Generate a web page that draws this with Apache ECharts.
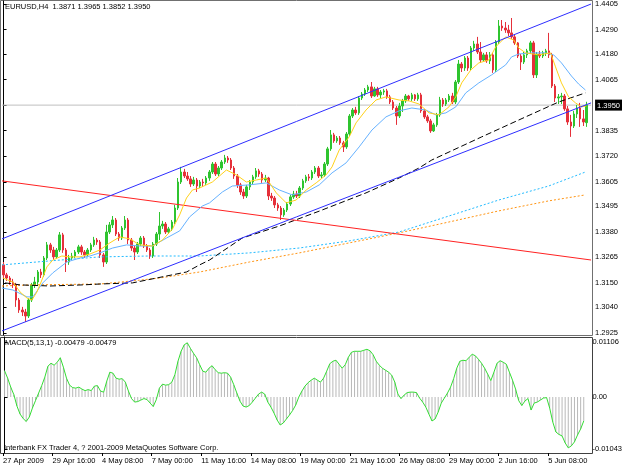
<!DOCTYPE html>
<html>
<head>
<meta charset="utf-8">
<title>EURUSD,H4</title>
<script src="https://cdn.jsdelivr.net/npm/echarts@6/dist/echarts.min.js"></script>
<style>
html, body { margin: 0; padding: 0; background: #fff; }
#main { width: 625px; height: 469px; }
</style>
</head>
<body>
<div id="main"></div>
<script>
// 4h bars, 27 Apr 2009 00:00 .. 9 Jun 04:00 -> [open, close, low, high]
var candles = [
    [1.3231,1.3186,1.3172,1.3244],[1.3186,1.3172,1.3159,1.3195],[1.3172,1.3154,1.3141,1.3181],[1.3154,1.3141,1.3127,1.3168],[1.3141,1.3073,1.3042,1.3150],
    [1.3073,1.3028,1.3015,1.3082],[1.3028,1.3019,1.3001,1.3042],[1.3019,1.3001,1.2974,1.3033],[1.3001,1.3073,1.2992,1.3082],[1.3073,1.3141,1.3064,1.3150],
    [1.3141,1.3154,1.3127,1.3177],[1.3154,1.3199,1.3141,1.3208],[1.3199,1.3186,1.3172,1.3213],[1.3186,1.3262,1.3177,1.3271],[1.3262,1.3321,1.3253,1.3334],
    [1.3321,1.3298,1.3285,1.3330],[1.3298,1.3267,1.3253,1.3312],[1.3267,1.3298,1.3258,1.3307],[1.3298,1.3366,1.3289,1.3379],[1.3366,1.3298,1.3285,1.3375],
    [1.3298,1.3244,1.3199,1.3307],[1.3244,1.3262,1.3231,1.3276],[1.3262,1.3271,1.3253,1.3285],[1.3271,1.3289,1.3262,1.3298],[1.3289,1.3312,1.3280,1.3321],
    [1.3312,1.3289,1.3276,1.3321],[1.3289,1.3276,1.3262,1.3298],[1.3276,1.3298,1.3267,1.3307],[1.3298,1.3321,1.3289,1.3330],[1.3321,1.3343,1.3312,1.3357],
    [1.3343,1.3334,1.3321,1.3352],[1.3334,1.3276,1.3262,1.3343],[1.3276,1.3244,1.3222,1.3285],[1.3244,1.3379,1.3235,1.3411],[1.3379,1.3411,1.3370,1.3424],
    [1.3411,1.3433,1.3397,1.3451],[1.3433,1.3370,1.3361,1.3442],[1.3370,1.3352,1.3339,1.3379],[1.3352,1.3397,1.3343,1.3406],[1.3397,1.3433,1.3388,1.3451],
    [1.3433,1.3343,1.3325,1.3442],[1.3343,1.3307,1.3294,1.3352],[1.3307,1.3289,1.3253,1.3316],[1.3289,1.3325,1.3280,1.3334],[1.3325,1.3352,1.3316,1.3361],
    [1.3352,1.3316,1.3307,1.3361],[1.3316,1.3298,1.3289,1.3325],[1.3298,1.3271,1.3258,1.3307],[1.3271,1.3325,1.3262,1.3334],[1.3325,1.3370,1.3316,1.3379],
    [1.3370,1.3406,1.3343,1.3469],[1.3406,1.3415,1.3393,1.3429],[1.3415,1.3379,1.3370,1.3424],[1.3379,1.3393,1.3370,1.3402],[1.3393,1.3424,1.3384,1.3433],
    [1.3424,1.3487,1.3415,1.3501],[1.3487,1.3604,1.3478,1.3622],[1.3604,1.3649,1.3595,1.3672],[1.3649,1.3631,1.3622,1.3663],[1.3631,1.3618,1.3609,1.3649],
    [1.3618,1.3595,1.3582,1.3631],[1.3595,1.3613,1.3586,1.3627],[1.3613,1.3586,1.3559,1.3622],[1.3586,1.3604,1.3577,1.3613],[1.3604,1.3600,1.3582,1.3618],
    [1.3600,1.3622,1.3591,1.3631],[1.3622,1.3649,1.3609,1.3658],[1.3649,1.3685,1.3640,1.3694],[1.3685,1.3640,1.3631,1.3694],[1.3640,1.3667,1.3631,1.3676],
    [1.3667,1.3694,1.3658,1.3703],[1.3694,1.3712,1.3685,1.3726],[1.3712,1.3703,1.3690,1.3721],[1.3703,1.3667,1.3658,1.3712],[1.3667,1.3631,1.3618,1.3676],
    [1.3631,1.3591,1.3577,1.3640],[1.3591,1.3559,1.3546,1.3600],[1.3559,1.3541,1.3528,1.3573],[1.3541,1.3582,1.3532,1.3591],[1.3582,1.3604,1.3568,1.3613],
    [1.3604,1.3627,1.3595,1.3636],[1.3627,1.3654,1.3618,1.3667],[1.3654,1.3640,1.3627,1.3663],[1.3640,1.3613,1.3600,1.3649],[1.3613,1.3622,1.3604,1.3636],
    [1.3622,1.3541,1.3523,1.3627],[1.3541,1.3532,1.3519,1.3555],[1.3532,1.3501,1.3487,1.3541],[1.3501,1.3487,1.3474,1.3510],[1.3487,1.3456,1.3433,1.3496],
    [1.3456,1.3478,1.3447,1.3487],[1.3478,1.3505,1.3469,1.3514],[1.3505,1.3537,1.3496,1.3546],[1.3537,1.3550,1.3528,1.3564],[1.3550,1.3541,1.3532,1.3564],
    [1.3541,1.3577,1.3532,1.3586],[1.3577,1.3609,1.3568,1.3618],[1.3609,1.3627,1.3600,1.3636],[1.3627,1.3622,1.3609,1.3640],[1.3622,1.3649,1.3613,1.3658],
    [1.3649,1.3667,1.3640,1.3676],[1.3667,1.3631,1.3622,1.3676],[1.3631,1.3636,1.3622,1.3649],[1.3636,1.3685,1.3627,1.3694],[1.3685,1.3753,1.3676,1.3762],
    [1.3753,1.3816,1.3744,1.3838],[1.3816,1.3789,1.3780,1.3825],[1.3789,1.3802,1.3780,1.3811],[1.3802,1.3780,1.3771,1.3811],[1.3780,1.3762,1.3739,1.3789],
    [1.3762,1.3820,1.3753,1.3829],[1.3820,1.3901,1.3811,1.3910],[1.3901,1.3928,1.3892,1.3937],[1.3928,1.3915,1.3906,1.3942],[1.3915,1.3982,1.3906,1.3991],
    [1.3982,1.4000,1.3973,1.4009],[1.4000,1.4018,1.3991,1.4027],[1.4018,1.4032,1.4009,1.4041],[1.4032,1.3991,1.3982,1.4054],[1.3991,1.4023,1.3987,1.4032],
    [1.4023,1.3996,1.3987,1.4032],[1.3996,1.4009,1.3982,1.4018],[1.4009,1.4014,1.3996,1.4023],[1.4014,1.3987,1.3978,1.4023],[1.3987,1.3964,1.3955,1.3996],
    [1.3964,1.3937,1.3928,1.3973],[1.3937,1.3901,1.3861,1.3946],[1.3901,1.3946,1.3892,1.3960],[1.3946,1.3969,1.3919,1.3978],[1.3969,1.3991,1.3960,1.4000],
    [1.3991,1.3978,1.3969,1.3996],[1.3978,1.3996,1.3969,1.4005],[1.3996,1.3978,1.3969,1.4000],[1.3978,1.3996,1.3969,1.4005],[1.3996,1.3924,1.3915,1.4005],
    [1.3924,1.3897,1.3888,1.3933],[1.3897,1.3879,1.3870,1.3906],[1.3879,1.3834,1.3825,1.3888],[1.3834,1.3861,1.3829,1.3870],[1.3861,1.3906,1.3852,1.3915],
    [1.3906,1.3973,1.3897,1.3987],[1.3973,1.3955,1.3942,1.3982],[1.3955,1.3973,1.3946,1.3982],[1.3973,1.3991,1.3964,1.4000],[1.3991,1.3964,1.3955,1.4005],
    [1.3964,1.4054,1.3955,1.4063],[1.4054,1.4135,1.4045,1.4153],[1.4135,1.4117,1.4099,1.4144],[1.4117,1.4162,1.4104,1.4171],[1.4162,1.4117,1.4104,1.4171],
    [1.4117,1.4207,1.4108,1.4216],[1.4207,1.4225,1.4194,1.4239],[1.4225,1.4189,1.4180,1.4257],[1.4189,1.4153,1.4140,1.4234],[1.4153,1.4176,1.4144,1.4185],
    [1.4176,1.4149,1.4140,1.4189],[1.4149,1.4176,1.4135,1.4189],[1.4176,1.4108,1.4095,1.4185],[1.4108,1.4234,1.4099,1.4243],[1.4234,1.4306,1.4225,1.4333],
    [1.4306,1.4297,1.4284,1.4333],[1.4297,1.4288,1.4275,1.4324],[1.4288,1.4275,1.4261,1.4311],[1.4275,1.4257,1.4248,1.4342],[1.4257,1.4230,1.4221,1.4266],
    [1.4230,1.4171,1.4162,1.4234],[1.4171,1.4144,1.4108,1.4180],[1.4144,1.4176,1.4135,1.4189],[1.4176,1.4194,1.4162,1.4203],[1.4194,1.4230,1.4180,1.4239],
    [1.4230,1.4086,1.4072,1.4239],[1.4086,1.4180,1.4072,1.4189],[1.4180,1.4171,1.4162,1.4194],[1.4171,1.4185,1.4162,1.4194],[1.4185,1.4194,1.4171,1.4203],
    [1.4194,1.4176,1.4162,1.4275],[1.4176,1.4036,1.4027,1.4185],[1.4036,1.3982,1.3964,1.4045],[1.3982,1.3987,1.3955,1.4000],[1.3987,1.3991,1.3955,1.4005],
    [1.3991,1.3933,1.3924,1.4000],[1.3933,1.3874,1.3861,1.3946],[1.3874,1.3856,1.3807,1.3906],[1.3856,1.3910,1.3847,1.3924],[1.3910,1.3937,1.3892,1.3951],
    [1.3937,1.3888,1.3852,1.3960],[1.3888,1.3874,1.3856,1.3928],[1.3871,1.3950,1.3852,1.3965]
];

// MACD(5,13,1), one value per bar
var macd = [
    0.0053, 0.0038, 0.0020, 0.0005, -0.0018, -0.0034, -0.0043, -0.0049, -0.0040, -0.0022,
    -0.0007, 0.0008, 0.0023, 0.0040, 0.0062, 0.0068, 0.0064, 0.0070, 0.0079, 0.0060,
    0.0038, 0.0024, 0.0019, 0.0018, 0.0020, 0.0016, 0.0013, 0.0015, 0.0013, 0.0022,
    0.0023, 0.0012, 0.0010, 0.0032, 0.0050, 0.0048, 0.0038, 0.0036, 0.0037, 0.0030,
    0.0012, -0.0003, -0.0010, -0.0009, -0.0006, -0.0003, -0.0005, -0.0012, -0.0019, -0.0005,
    0.0018, 0.0026, 0.0024, 0.0025, 0.0030, 0.0045, 0.0072, 0.0092, 0.0105, 0.0109,
    0.0098, 0.0088, 0.0079, 0.0065, 0.0052, 0.0050, 0.0058, 0.0063, 0.0055, 0.0049,
    0.0048, 0.0049, 0.0048, 0.0040, 0.0025, 0.0008, -0.0008, -0.0018, -0.0020, -0.0017,
    -0.0010, -0.0002, 0.0006, 0.0010, 0.0006, -0.0010, -0.0020, -0.0032, -0.0046, -0.0056,
    -0.0052, -0.0044, -0.0036, -0.0027, -0.0016, 0.0000, 0.0012, 0.0022, 0.0029, 0.0034,
    0.0038, 0.0034, 0.0030, 0.0038, 0.0052, 0.0067, 0.0072, 0.0074, 0.0066, 0.0058,
    0.0065, 0.0080, 0.0090, 0.0092, 0.0092, 0.0092, 0.0094, 0.0096, 0.0093, 0.0085,
    0.0072, 0.0064, 0.0058, 0.0054, 0.0050, 0.0044, 0.0030, 0.0006, -0.0003, 0.0004,
    0.0009, 0.0010, 0.0010, 0.0009, -0.0002, -0.0010, -0.0020, -0.0034, -0.0048, -0.0044,
    -0.0030, -0.0012, -0.0002, 0.0008, 0.0020, 0.0037, 0.0058, 0.0072, 0.0074, 0.0073,
    0.0080, 0.0086, 0.0083, 0.0076, 0.0068, 0.0058, 0.0046, 0.0033, 0.0050, 0.0068,
    0.0073, 0.0070, 0.0066, 0.0050, 0.0034, 0.0016, -0.0007, -0.0017, -0.0008, -0.0003,
    -0.0026, -0.0012, -0.0010, -0.0006, -0.0002, -0.0001, -0.0022, -0.0050, -0.0070, -0.0075,
    -0.0078, -0.0092, -0.0102, -0.0098, -0.0090, -0.0076, -0.0064, -0.0048
];

// moving averages: [bar, price]
var maYellow = [[-0.2,1.3172],[3,1.3154],[5.3,1.3109],[7.5,1.3082],[9.1,1.3073],[10.7,1.3109],[12.3,1.3163],[13.9,1.3222],[15.8,1.3253],[18.7,1.3271],[21.3,1.3267],[24.5,1.3267],[27.7,1.3280],[30.9,1.3298],[34.1,1.3330],[37.3,1.3357],[40.5,1.3348],[43.7,1.3321],[47.8,1.3316],[51,1.3343],[54.2,1.3393],[56.5,1.3456],[58.7,1.3532],[60.6,1.3568],[62.9,1.3577],[67,1.3604],[71.5,1.3658],[74.7,1.3636],[77.9,1.3604],[81.1,1.3613],[84.3,1.3622],[87.5,1.3555],[90.7,1.3510],[93.9,1.3523],[97.1,1.3568],[100.3,1.3600],[103.5,1.3636],[105.4,1.3672],[107.7,1.3748],[110.9,1.3807],[113.1,1.3870],[116.3,1.3928],[119.5,1.3973],[122.7,1.3987],[126.9,1.3973],[130.1,1.3969],[133.3,1.3955],[136.5,1.3915],[139.7,1.3906],[142.9,1.3942],[145.1,1.3987],[147,1.4050],[149.9,1.4108],[152.5,1.4140],[155.7,1.4153],[157.9,1.4212],[161.1,1.4257],[163.7,1.4243],[165.3,1.4207],[167.5,1.4185],[171.7,1.4176],[175.5,1.4185],[177.1,1.4122],[179,1.4050],[181.3,1.3987],[183.5,1.3960],[185.4,1.3942],[187,1.3946]];
var maBlue = [[-0.5,1.3127],[3,1.3118],[7.5,1.3087],[9.4,1.3087],[12.6,1.3150],[15.8,1.3195],[20.3,1.3244],[24.5,1.3262],[27.7,1.3271],[30.9,1.3285],[35,1.3307],[39.5,1.3321],[43.7,1.3316],[47.8,1.3316],[52.3,1.3352],[56.5,1.3384],[59.7,1.3447],[63.8,1.3496],[66.1,1.3510],[70.2,1.3559],[73.4,1.3586],[78.9,1.3591],[84.3,1.3600],[88.5,1.3568],[92.6,1.3546],[97.1,1.3559],[101.3,1.3591],[105.4,1.3645],[109.9,1.3690],[114.1,1.3762],[118.2,1.3838],[122.7,1.3897],[126.9,1.3924],[131,1.3937],[135.5,1.3928],[138.7,1.3906],[141.9,1.3915],[145.1,1.3942],[148.3,1.4005],[152.5,1.4050],[156.6,1.4086],[161.1,1.4131],[163,1.4167],[165.3,1.4180],[169.4,1.4185],[173.9,1.4185],[176.5,1.4176],[179,1.4140],[182.2,1.4081],[184.5,1.4045],[186.7,1.4018]];
var maBlack = [[0.5,1.3150],[5.3,1.3141],[14.9,1.3136],[25.4,1.3141],[30.9,1.3145],[41.4,1.3150],[49.1,1.3172],[58.7,1.3199],[62.9,1.3231],[66.1,1.3253],[76.6,1.3352],[88.5,1.3406],[101.3,1.3473],[116.3,1.3555],[126.9,1.3622],[133.3,1.3667],[137.4,1.3703],[153.4,1.3807],[167.5,1.3897],[178.1,1.3964],[186.7,1.4005]];
var maOrange = [[-0.5,1.3136],[8.5,1.3141],[30.9,1.3145],[41.4,1.3159],[50.1,1.3172],[62.9,1.3199],[78.9,1.3244],[94.9,1.3285],[110.9,1.3330],[126.9,1.3375],[142.9,1.3424],[158.9,1.3474],[174.9,1.3519],[186.7,1.3546]];
var maCyan = [[-0.5,1.3231],[14.9,1.3249],[30.9,1.3267],[46.9,1.3271],[62.9,1.3271],[78.9,1.3285],[94.9,1.3307],[110.9,1.3339],[126.9,1.3379],[142.9,1.3451],[158.9,1.3523],[174.9,1.3586],[186.7,1.3649]];

// trend lines drawn on the chart
var channelUpper = [[-0.5,1.3348],[188.5,1.4405]];
var channelLower = [[-0.5,1.2934],[188.5,1.3960]];
var redLine = [[-0.5,1.3609],[188.5,1.3253]];
var bidPrice = 1.3950;
var bidLine = [[-0.5,bidPrice],[188.5,bidPrice]];

var priceTicks = [1.4405,1.4290,1.4180,1.4065,1.3950,1.3835,1.3720,1.3605,1.3495,1.3380,1.3265,1.3150,1.3040,1.2925];
var macdTicks = [0.01106, 0, -0.01043];
var macdTickText = ['0.01106', '0.00', '-0.01043'];
var timeLabels = ['27 Apr 2009','29 Apr 16:00','4 May 08:00','7 May 00:00','11 May 16:00','14 May 08:00','19 May 00:00','21 May 16:00','26 May 08:00','29 May 00:00','2 Jun 16:00','5 Jun 08:00'];

var FONT = 'Liberation Sans';
var nCat = candles.length + 1;
var cats = [];
for (var i = 0; i < nCat; i++) cats.push(i);
var timeTickPos = timeLabels.map(function (t, k) { return k * 16 - 0.5; });

var chart = echarts.init(document.getElementById('main'), null, {renderer: 'canvas'});

function overlay(data, color, type, z) {
    return {
        type: 'line', xAxisIndex: 1, yAxisIndex: 0, data: data,
        symbol: 'none', silent: true, z: z || 5,
        lineStyle: {color: color, width: 1, type: type || 'solid'}
    };
}

var option = {
    animation: false,
    backgroundColor: '#ffffff',
    grid: [
        {left: 2, top: 1, width: nCat * 3.125, height: 334},
        {left: 2, top: 337, width: nCat * 3.125, height: 116}
    ],
    xAxis: [
        {type: 'category', gridIndex: 0, data: cats, boundaryGap: true, show: false},
        {type: 'value', gridIndex: 0, min: -0.5, max: nCat - 0.5, show: false},
        {type: 'category', gridIndex: 1, data: cats, boundaryGap: true, show: false},
        {
            type: 'value', gridIndex: 1, min: -0.5, max: nCat - 0.5, position: 'bottom',
            axisLine: {show: false},
            splitLine: {show: false},
            axisTick: {show: true, customValues: timeTickPos, length: 3, lineStyle: {color: '#000'}},
            axisLabel: {
                customValues: timeTickPos, margin: 4, align: 'left',
                fontFamily: FONT, fontSize: 7.5, color: '#000',
                formatter: function (v) { return timeLabels[Math.round((v + 0.5) / 16)] || ''; }
            }
        }
    ],
    yAxis: [
        {
            type: 'value', gridIndex: 0, position: 'right', min: 1.29155, max: 1.44185,
            axisLine: {show: true, lineStyle: {color: '#000'}},
            splitLine: {show: false},
            axisTick: {show: true, customValues: priceTicks, length: 3, lineStyle: {color: '#000'}},
            axisLabel: {
                customValues: priceTicks, margin: 4, align: 'left',
                fontFamily: FONT, fontSize: 7.5, color: '#000',
                formatter: function (v) {
                    var s = v.toFixed(4);
                    return Math.abs(v - bidPrice) < 1e-6 ? '{hl|' + s + '}' : s;
                },
                rich: {hl: {backgroundColor: '#000', color: '#fff', fontFamily: FONT, fontSize: 7.5, padding: [2, 2, 1, 2]}}
            }
        },
        {
            type: 'value', gridIndex: 1, position: 'right', min: -0.01123, max: 0.01207,
            axisLine: {show: true, lineStyle: {color: '#000'}},
            splitLine: {show: false},
            axisTick: {show: true, customValues: macdTicks, length: 3, lineStyle: {color: '#000'}},
            axisLabel: {
                customValues: macdTicks, margin: 4, align: 'left',
                fontFamily: FONT, fontSize: 7.5, color: '#000',
                formatter: function (v) { return macdTickText[macdTicks.indexOf(v)] || ''; }
            }
        }
    ],
    series: [
        overlay(bidLine, '#C0C0C0', 'solid', 2),
        {
            type: 'candlestick', xAxisIndex: 0, yAxisIndex: 0, data: candles,
            barWidth: 2, silent: true, z: 3,
            itemStyle: {color: '#2FC42F', color0: '#E5303A', borderColor: '#2FC42F', borderColor0: '#E5303A', borderWidth: 1}
        },
        overlay(maCyan, '#22BBFF', [2, 2], 4),
        overlay(maOrange, '#FF9411', [2, 2], 4),
        overlay(maBlack, '#000000', [6, 3], 4),
        overlay(redLine, '#FF2222', 'solid', 4),
        overlay(maBlue, '#66B2FF', 'solid', 5),
        overlay(maYellow, '#FFD21A', 'solid', 6),
        overlay(channelUpper, '#2E2EFF', 'solid', 6),
        overlay(channelLower, '#2E2EFF', 'solid', 6),
        {
            type: 'bar', xAxisIndex: 2, yAxisIndex: 1, data: macd,
            barWidth: 1, silent: true, itemStyle: {color: '#B8B8B8'}
        },
        {
            type: 'line', xAxisIndex: 2, yAxisIndex: 1, data: macd,
            symbol: 'none', silent: true, z: 5,
            lineStyle: {color: '#33DD33', width: 1}
        }
    ],
    graphic: [
        {type: 'rect', silent: true, z: 0, shape: {x: 0.5, y: 0.5, width: 592, height: 335}, style: {fill: null, stroke: '#707070', lineWidth: 1}},
        {type: 'rect', silent: true, z: 0, shape: {x: 0.5, y: 337.5, width: 592, height: 116}, style: {fill: null, stroke: '#404040', lineWidth: 1}},
        {type: 'text', left: 5, top: 3, silent: true, z: 10, style: {text: 'EURUSD,H4  1.3871 1.3965 1.3852 1.3950', fontFamily: FONT, fontSize: 7.5, fill: '#000'}},
        {type: 'text', left: 5, top: 339, silent: true, z: 10, style: {text: 'MACD(5,13,1) -0.00479 -0.00479', fontFamily: FONT, fontSize: 7.5, fill: '#000'}},
        {type: 'text', left: 4, top: 444, silent: true, z: 10, style: {text: 'Interbank FX Trader 4, ? 2001-2009 MetaQuotes Software Corp.', fontFamily: FONT, fontSize: 7.5, fill: '#000'}}
    ]
};

chart.setOption(option);
</script>
</body>
</html>
